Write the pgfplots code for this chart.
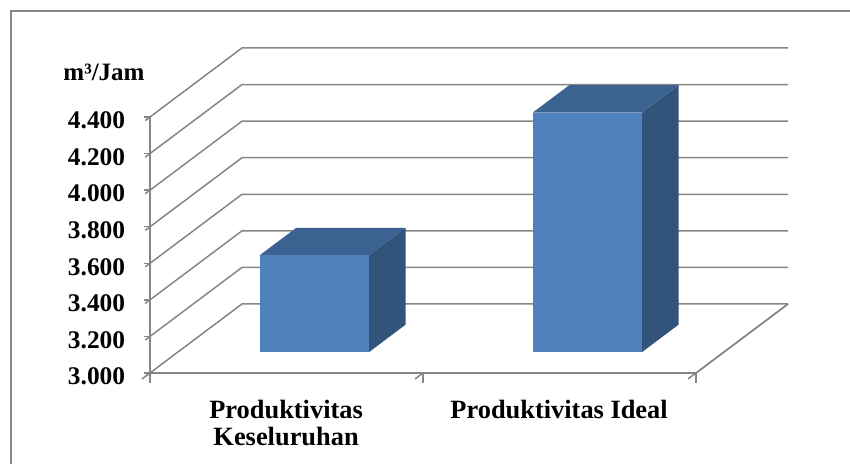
\documentclass[border=0pt]{standalone}
\usepackage{fontspec}
\setmainfont{Liberation Serif}
\usepackage{pgfplots}
\pgfplotsset{compat=1.18}
\definecolor{barfront}{RGB}{79,129,189}
\definecolor{bartop}{RGB}{60,98,145}
\definecolor{barside}{RGB}{50,83,122}
\definecolor{gridc}{RGB}{134,134,134}
\begin{document}
\begin{tikzpicture}
\begin{axis}[
  x={(136.5pt,0pt)}, y={(46pt,34.5pt)}, z={(0pt,0.09143pt)},
  xmin=0.5, xmax=2.5, ymin=0, ymax=1, zmin=3000, zmax=4400,
  axis lines=left,
  axis line style={gridc, line width=0.75pt, -},
  clip=false,
  xtick={1,2},
  xticklabels={{Produktivitas\\Keseluruhan},{Produktivitas Ideal}},
  minor xtick={0.5,1.5,2.5},
  major x tick style={draw=none},
  minor x tick style={gridc, line width=0.75pt},
  minor tick length=5pt,
  ytick=\empty,
  ztick={3000,3200,...,4400},
  z tick style={gridc, line width=0.75pt},
  major tick length=3pt,
  tick align=outside,
  scaled z ticks=false,
  /pgf/number format/assume math mode=true,
  /pgf/number format/.cd, fixed, 1000 sep={.},
  /pgfplots/.cd,
  zticklabel style={font=\fontsize{12.7}{13.5}\selectfont\bfseries, anchor=east, xshift=-6.5pt},
  xticklabel style={font=\fontsize{13.2}{13.5}\selectfont\bfseries, align=center, anchor=north, yshift=-8.5pt, xshift=2.2pt},
]
\pgfplotsinvokeforeach{3000,3200,...,4400}{
  \addplot3[gridc, line width=0.75pt, no marks] coordinates {(0.5,0,#1) (0.5,1,#1) (2.5,1,#1)};
}
\addplot3[gridc, line width=0.75pt, no marks] coordinates {(2.5,0,3000) (2.5,1,3000)};
% bar 1: Produktivitas Keseluruhan = 3530
\addplot3[fill=barside, draw=none, no marks] coordinates {(1.2,0.3,3000) (1.2,0.7,3000) (1.2,0.7,3530) (1.2,0.3,3530)} -- cycle;
\addplot3[fill=bartop, draw=none, no marks] coordinates {(0.8,0.3,3530) (1.2,0.3,3530) (1.2,0.7,3530) (0.8,0.7,3530)} -- cycle;
\addplot3[fill=barfront, draw=none, no marks] coordinates {(0.8,0.3,3000) (1.2,0.3,3000) (1.2,0.3,3530) (0.8,0.3,3530)} -- cycle;
% bar 2: Produktivitas Ideal = 4310
\addplot3[fill=barside, draw=none, no marks] coordinates {(2.2,0.3,3000) (2.2,0.7,3000) (2.2,0.7,4310) (2.2,0.3,4310)} -- cycle;
\addplot3[fill=bartop, draw=none, no marks] coordinates {(1.8,0.3,4310) (2.2,0.3,4310) (2.2,0.7,4310) (1.8,0.7,4310)} -- cycle;
\addplot3[fill=barfront, draw=none, no marks] coordinates {(1.8,0.3,3000) (2.2,0.3,3000) (2.2,0.3,4310) (1.8,0.3,4310)} -- cycle;
\coordinate (O) at (axis cs:0.5,0,3000);
\node[font=\fontsize{12.5}{13.5}\selectfont\bfseries, xshift=-23pt, yshift=22.5pt] at (axis cs:0.5,0,4400) {m³/Jam};
\end{axis}
\pgfresetboundingbox
\useasboundingbox ([xshift=-75pt,yshift=-45.5pt]O) rectangle ([xshift=350pt,yshift=186.5pt]O);
\draw[gridc, line width=1pt] ([xshift=-69.5pt,yshift=-60pt]O) -- ([xshift=-69.5pt,yshift=181pt]O) -- ([xshift=360pt,yshift=181pt]O);
\end{tikzpicture}
\end{document}
